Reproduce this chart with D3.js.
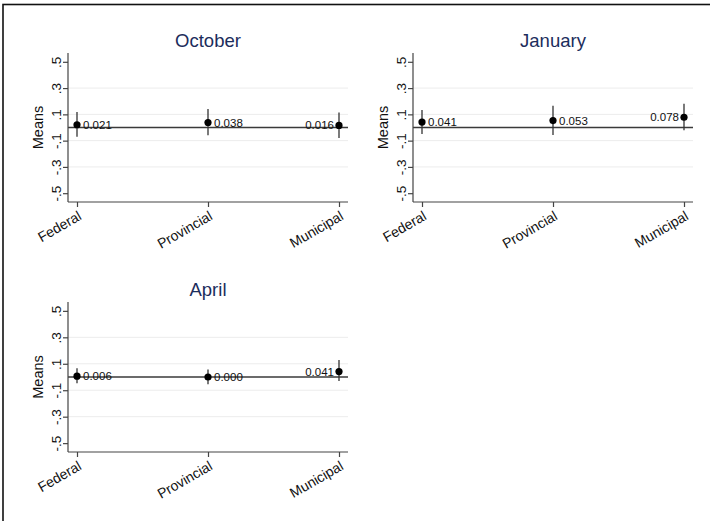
<!DOCTYPE html>
<html>
<head>
<meta charset="utf-8">
<script src="https://cdn.jsdelivr.net/npm/d3@7"></script>
<style>
  html, body { margin: 0; padding: 0; background: #fff; }
  svg { display: block; font-family: "Liberation Sans", Arial, sans-serif; }
</style>
</head>
<body>
<svg id="chart" width="710" height="521"></svg>
<script>
// Levels of government on the x axis
const categories = ["Federal", "Provincial", "Municipal"];
// Survey waves, one panel each
const months = ["October", "January", "April"];
// Means per level, per wave
const octoberMeans = [0.021, 0.038, 0.016];
const januaryMeans = [0.041, 0.053, 0.078];
const aprilMeans = [0.006, 0.000, 0.041];
// Confidence interval bounds
const octoberLower = [-0.071, -0.059, -0.080];
const octoberUpper = [0.118, 0.140, 0.114];
const januaryLower = [-0.049, -0.058, -0.020];
const januaryUpper = [0.133, 0.166, 0.180];
const aprilLower = [-0.047, -0.055, -0.030];
const aprilUpper = [0.066, 0.057, 0.128];
// Y tick values and labels
const yTicks = [-0.5, -0.3, -0.1, 0.1, 0.3, 0.5];
const yTickLabels = ["-.5", "-.3", "-.1", ".1", ".3", ".5"];

const panelData = [
  { title: months[0], means: octoberMeans, lo: octoberLower, hi: octoberUpper },
  { title: months[1], means: januaryMeans, lo: januaryLower, hi: januaryUpper },
  { title: months[2], means: aprilMeans, lo: aprilLower, hi: aprilUpper }
];
// Plot regions for the 2x2 grid (last cell empty)
const frames = [
  { x0: 68, x1: 348, y0: 53, y1: 202 },
  { x0: 413, x1: 693, y0: 53, y1: 202 },
  { x0: 68, x1: 348, y0: 302, y1: 452 }
];

const svg = d3.select("#chart");

// outer border
svg.append("rect")
  .attr("x", 3).attr("y", 4.5)
  .attr("width", 740).attr("height", 600)
  .attr("fill", "none").attr("stroke", "#111").attr("stroke-width", 1.6);

const navy = "#1c2d5c";
const ink = "#111";
const font = "Liberation Sans, Arial, sans-serif";

panelData.forEach((p, i) => {
  const f = frames[i];
  const g = svg.append("g");

  const x = d3.scalePoint().domain(categories).range([f.x0 + 9, f.x1 - 9]);
  const y = d3.scaleLinear().domain([-0.567, 0.567]).range([f.y1, f.y0]);

  // grid lines
  g.selectAll("line.grid")
    .data(yTicks.filter(t => Math.abs(t) < 0.4))
    .join("line")
    .attr("class", "grid")
    .attr("x1", f.x0).attr("x2", f.x1)
    .attr("y1", d => y(d)).attr("y2", d => y(d))
    .attr("stroke", "#ececec").attr("stroke-width", 1);

  // zero reference line
  g.append("line")
    .attr("x1", f.x0).attr("x2", f.x1)
    .attr("y1", y(0)).attr("y2", y(0))
    .attr("stroke", "#3a3a3a").attr("stroke-width", 1.4);

  // y axis
  const yAxis = d3.axisLeft(y).tickValues(yTicks)
    .tickFormat((d, j) => yTickLabels[j]).tickSize(5).tickPadding(4);
  const ya = g.append("g").attr("transform", `translate(${f.x0},0)`).call(yAxis)
    .attr("font-size", 13.5).attr("font-family", font);
  ya.select(".domain").attr("stroke", "#444").attr("stroke-width", 1.2)
    .attr("d", `M-0,${f.y0}V${f.y1}`);
  ya.selectAll(".tick line").attr("stroke", "#444").attr("stroke-width", 1.2);
  ya.selectAll(".tick text")
    .attr("fill", ink)
    .attr("text-anchor", "middle")
    .attr("x", 0).attr("dy", 0)
    .attr("transform", "translate(-12,0) rotate(-90)")
    .attr("dominant-baseline", "central");

  // x axis
  const xAxis = d3.axisBottom(x).tickSize(5).tickFormat(d => d);
  const xa = g.append("g").attr("transform", `translate(0,${f.y1})`).call(xAxis)
    .attr("font-size", 14).attr("font-family", font);
  xa.select(".domain").attr("stroke", "#444").attr("stroke-width", 1.2)
    .attr("d", `M${f.x0},0H${f.x1}`);
  xa.selectAll(".tick line").attr("stroke", "#444").attr("stroke-width", 1.2);
  xa.selectAll(".tick text")
    .attr("fill", ink)
    .attr("text-anchor", "end")
    .attr("y", 0).attr("dy", "0.72em")
    .attr("transform", "translate(0,8) rotate(-30)");

  // axis title
  g.append("text")
    .attr("transform", `translate(${f.x0 - 30},${(f.y0 + f.y1) / 2}) rotate(-90)`)
    .attr("text-anchor", "middle").attr("dominant-baseline", "central")
    .attr("font-size", 14.5).attr("font-family", font).attr("fill", ink)
    .text("Means");

  // panel title
  g.append("text")
    .attr("x", (f.x0 + f.x1) / 2).attr("y", f.y0 - 6)
    .attr("text-anchor", "middle")
    .attr("font-size", 18.5).attr("font-family", font).attr("fill", navy)
    .text(p.title);

  // confidence intervals
  g.selectAll("line.ci")
    .data(categories)
    .join("line")
    .attr("class", "ci")
    .attr("x1", d => x(d)).attr("x2", d => x(d))
    .attr("y1", (d, j) => y(p.lo[j])).attr("y2", (d, j) => y(p.hi[j]))
    .attr("stroke", "#333").attr("stroke-width", 1.3);

  // mean markers
  g.selectAll("circle.pt")
    .data(categories)
    .join("circle")
    .attr("class", "pt")
    .attr("cx", d => x(d)).attr("cy", (d, j) => y(p.means[j]))
    .attr("r", 3.6).attr("fill", "#000");

  // value labels
  g.selectAll("text.val")
    .data(categories)
    .join("text")
    .attr("class", "val")
    .attr("x", (d, j) => j < 2 ? x(d) + 6 : x(d) - 5)
    .attr("y", (d, j) => y(p.means[j]))
    .attr("text-anchor", (d, j) => j < 2 ? "start" : "end")
    .attr("dominant-baseline", "central")
    .attr("font-size", 11.5).attr("font-family", font).attr("fill", ink)
    .text((d, j) => p.means[j].toFixed(3));
});
</script>
</body>
</html>
